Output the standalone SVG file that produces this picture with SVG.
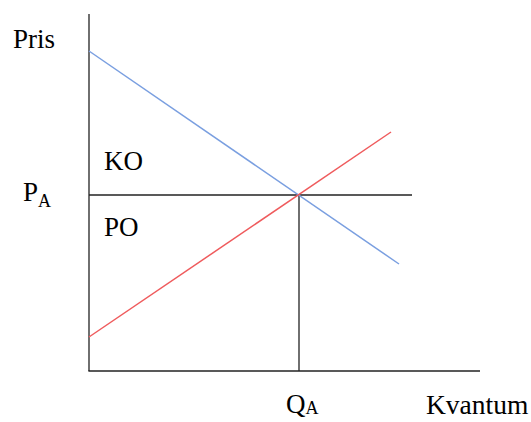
<svg xmlns="http://www.w3.org/2000/svg" width="531" height="422" viewBox="0 0 531 422">
<style>
.ax{stroke:#222;stroke-width:1.3;fill:none}
text{font-family:'Liberation Serif','DejaVu Serif',serif;font-size:27px;fill:#000}
.s{font-size:18px}
</style>
<rect width="531" height="422" fill="#fff"/>
<g id="connectors">
<line class="ax" x1="89" y1="14" x2="89" y2="371"/>
<line class="ax" x1="88.4" y1="371" x2="480" y2="371"/>
<line class="ax" x1="89" y1="195" x2="412" y2="195"/>
<line class="ax" x1="299" y1="195" x2="299" y2="371"/>
<line x1="89" y1="51" x2="399" y2="264" stroke="#7a9fe0" stroke-width="1.5"/>
<line x1="89" y1="337" x2="391" y2="132" stroke="#ef5b5d" stroke-width="1.5"/>
</g>
<g id="pris"><text x="13" y="48">Pris</text></g>
<g id="ko"><text x="104" y="170">KO</text></g>
<g id="po"><text x="104" y="236">PO</text></g>
<g id="pa"><text x="23" y="201">P<tspan class="s" dy="6">A</tspan></text></g>
<g id="qa"><text x="286" y="413">Q<tspan class="s" dy="1">A</tspan></text></g>
<g id="kvantum"><text x="426" y="414" style="font-size:27.5px">Kvantum</text></g>
</svg>
